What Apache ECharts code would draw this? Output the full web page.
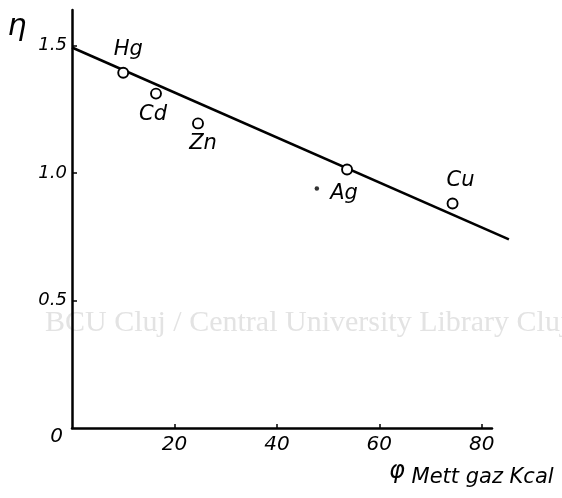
<!DOCTYPE html>
<html>
<head>
<meta charset="utf-8">
<script src="https://cdn.jsdelivr.net/npm/echarts@6/dist/echarts.min.js"></script>
<style>
html,body{margin:0;padding:0;background:#fff;}
#chart{width:562px;height:498px;}
</style>
</head>
<body>
<div id="chart"></div>
<script>
// ---- data ----
const elements = ['Hg', 'Cd', 'Zn', 'Ag', 'Cu'];
const phiValues = [10, 16.4, 24.6, 53.7, 74.3];
const etaValues = [1.394, 1.312, 1.195, 1.014, 0.881];
const strayPhi = [47.8];
const strayEta = [0.940];
const fitLinePhi = [0, 85.3];
const fitLineEta = [1.493, 0.740];
const xTickValues = [20, 40, 60, 80];
const yTickValues = [0.5, 1.0, 1.5];
const yLabelValues = [0, 0.5, 1.0, 1.5];
const yAxisTitle = 'η';
const xAxisSymbol = 'φ';
const xAxisTitle = 'Mett gaz Kcal';
const watermark = 'BCU Cluj / Central University Library Cluj';

// ---- styles ----
const labelOffsets = [[5, -23], [-3, 21], [5, 20], [-3, 24], [8, -23]];
const FONT = 'DejaVu Sans';
const X_MAX = 82;       // drawn axis extent
const X_MAX_FIT = 86;   // extent of the hidden axis used by the fit line
const GRID_LEFT = 72, GRID_RIGHT = 70, GRID_TOP = 10, GRID_BOTTOM = 70;
const plotWidth = 562 - GRID_LEFT - GRID_RIGHT;
const fitGridRight = 562 - GRID_LEFT - plotWidth * X_MAX_FIT / X_MAX;

const chart = echarts.init(document.getElementById('chart'), null, {renderer: 'canvas'});

const hiddenAxis = {show: false, splitLine: {show: false}};

const option = {
  animation: false,
  backgroundColor: '#ffffff',
  grid: [
    {left: GRID_LEFT, right: GRID_RIGHT, top: GRID_TOP, bottom: GRID_BOTTOM, containLabel: false},
    {left: GRID_LEFT, right: fitGridRight, top: GRID_TOP, bottom: GRID_BOTTOM, containLabel: false}
  ],
  xAxis: [
    {
      type: 'value', min: 0, max: X_MAX, gridIndex: 0,
      axisLine: {show: true, lineStyle: {color: '#000', width: 2.5}},
      axisTick: {show: true, inside: true, length: 4, customValues: xTickValues, lineStyle: {color: '#000', width: 1.5}},
      axisLabel: {customValues: xTickValues, margin: 7, fontSize: 20, fontStyle: 'italic', fontFamily: FONT, color: '#000'},
      splitLine: {show: false}
    },
    Object.assign({type: 'value', min: 0, max: X_MAX_FIT, gridIndex: 1}, hiddenAxis)
  ],
  yAxis: [
    {
      type: 'value', min: 0, max: 1.64, gridIndex: 0,
      axisLine: {show: true, lineStyle: {color: '#000', width: 2.5}},
      axisTick: {show: true, inside: true, length: 5, customValues: yTickValues, lineStyle: {color: '#000', width: 1.5}},
      axisLabel: {
        customValues: yLabelValues, margin: 5, fontSize: 18, fontStyle: 'italic', fontFamily: FONT, color: '#000',
        formatter: function (v) { return v === 0 ? '{z|0}' : Number(v).toFixed(1); },
        rich: {z: {fontSize: 20, fontStyle: 'italic', fontFamily: FONT, color: '#000', padding: [18, 4, 0, 0]}}
      },
      splitLine: {show: false}
    },
    Object.assign({type: 'value', min: 0, max: 1.64, gridIndex: 1}, hiddenAxis)
  ],
  series: [
    {
      type: 'line',
      xAxisIndex: 1, yAxisIndex: 1,
      data: fitLinePhi.map((x, i) => [x, fitLineEta[i]]),
      symbol: 'none',
      silent: true,
      lineStyle: {color: '#000', width: 2.6},
      z: 2
    },
    {
      type: 'scatter',
      data: strayPhi.map((x, i) => [x, strayEta[i]]),
      symbol: 'circle',
      symbolSize: 4.5,
      itemStyle: {color: '#000'},
      z: 3
    },
    {
      type: 'scatter',
      data: elements.map((name, i) => ({
        name: name,
        value: [phiValues[i], etaValues[i]],
        label: {offset: labelOffsets[i]}
      })),
      symbol: 'circle',
      symbolSize: 10,
      itemStyle: {color: '#fff', borderColor: '#000', borderWidth: 1.9, opacity: 1},
      label: {
        show: true, position: 'inside', formatter: '{b}',
        fontSize: 21, fontStyle: 'italic', fontFamily: FONT, color: '#000'
      },
      z: 4
    }
  ],
  graphic: [
    {
      type: 'text', left: 45, top: 308, z: -1, silent: true,
      style: {text: watermark, fill: '#e3e3e3', font: '30px "Liberation Serif"'}
    },
    {
      type: 'text', x: 17, y: 27, z: 10,
      style: {text: yAxisTitle, fill: '#000', font: 'italic 30px "DejaVu Sans"', align: 'center', verticalAlign: 'middle'}
    },
    {
      type: 'text', x: 389, y: 478, z: 10,
      style: {
        text: '{p|' + xAxisSymbol + '}{t| ' + xAxisTitle + '}',
        verticalAlign: 'middle',
        rich: {
          p: {font: 'italic 24px "DejaVu Sans"', fill: '#000', padding: [0, 0, 12, 0]},
          t: {font: 'italic 21px "DejaVu Sans"', fill: '#000'}
        }
      }
    }
  ]
};
chart.setOption(option);
</script>
</body>
</html>
